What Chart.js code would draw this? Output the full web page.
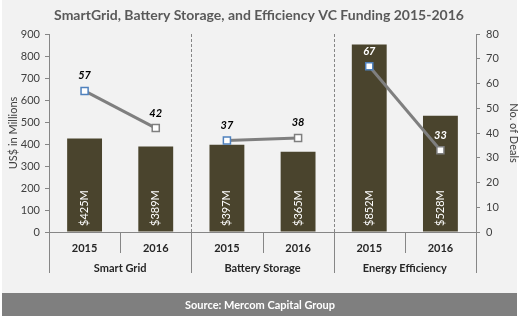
<!DOCTYPE html>
<html>
<head>
<meta charset="utf-8">
<script src="https://cdn.jsdelivr.net/npm/chart.js@4"></script>
<style>
  html, body { margin: 0; padding: 0; background: #ffffff; }
  #wrap { width: 520px; height: 320px; position: relative; }
</style>
</head>
<body>
<div id="wrap"><canvas id="vcChart" width="520" height="320"></canvas></div>
<script>
    // --- DATA ---
    const years = ['2015', '2016', '2015', '2016', '2015', '2016'];
    const groups = ['Smart Grid', 'Battery Storage', 'Energy Efficiency'];
    const funding = [425, 389, 397, 365, 852, 528];        // US$ millions
    const fundingLabels = ['$425M', '$389M', '$397M', '$365M', '$852M', '$528M'];
    const dealsSmartGrid = [57, 42, null, null, null, null];
    const dealsBattery = [null, null, 37, 38, null, null];
    const dealsEfficiency = [null, null, null, null, 67, 33];
    const leftTicks = [0, 100, 200, 300, 400, 500, 600, 700, 800, 900];
    const rightTicks = [0, 10, 20, 30, 40, 50, 60, 70, 80];

    const FONT = 'Lato, "Open Sans", sans-serif';
    const AXIS_GREY = '#868686';
    const BAR_COLOR = '#4a442d';

    // --- PANEL BACKGROUND + TITLE + FOOTER ---
    const framePlugin = {
        id: 'frame',
        beforeDraw(chart) {
            const c = chart.ctx;
            c.save();
            c.fillStyle = '#f2f2f2';
            c.fillRect(2, 0, 515, 316);
            c.fillStyle = '#7f7f7f';
            c.fillRect(2, 293, 515, 23);
            c.fillStyle = '#ffffff';
            c.font = 'bold 11px ' + FONT;
            c.textAlign = 'center';
            c.textBaseline = 'middle';
            c.fillText('Source: Mercom Capital Group', 260, 305);
            c.fillStyle = '#595959';
            c.font = 'bold 14px ' + FONT;
            c.fillText('SmartGrid, Battery Storage, and Efficiency VC Funding 2015-2016', 259, 15);
            c.restore();
        }
    };

    // --- SEPARATORS, GROUP LABELS, VALUE LABELS ---
    const overlayPlugin = {
        id: 'overlay',
        afterDatasetsDraw(chart) {
            const c = chart.ctx;
            const area = chart.chartArea;
            const xs = chart.scales.x;
            const half = (xs.getPixelForValue(1) - xs.getPixelForValue(0)) / 2;
            c.save();

            // bar value labels, rotated inside bars
            const barMeta = chart.getDatasetMeta(0);
            c.fillStyle = '#ffffff';
            c.font = '11px ' + FONT;
            c.textAlign = 'left';
            c.textBaseline = 'middle';
            barMeta.data.forEach((bar, i) => {
                c.save();
                c.translate(bar.x, area.bottom - 6);
                c.rotate(-Math.PI / 2);
                c.fillText(fundingLabels[i], 0, 0);
                c.restore();
            });

            // deal count labels above points
            c.font = 'bold italic 11px ' + FONT;
            c.textAlign = 'center';
            c.textBaseline = 'middle';
            [1, 2, 3].forEach(d => {
                const ds = chart.data.datasets[d];
                chart.getDatasetMeta(d).data.forEach((pt, i) => {
                    const v = ds.data[i];
                    if (v === null) return;
                    c.fillStyle = d === 3 ? '#ffffff' : '#000000';
                    c.fillText(v, pt.x, pt.y - 15);
                });
            });

            // group separators
            c.strokeStyle = AXIS_GREY;
            c.lineWidth = 1;
            for (let g = 1; g < groups.length; g++) {
                const x = Math.round(xs.getPixelForValue(g * 2) - half) + 0.5;
                c.setLineDash([3, 2]);
                c.beginPath();
                c.moveTo(x, area.top);
                c.lineTo(x, area.bottom);
                c.stroke();
            }
            c.setLineDash([]);
            for (let g = 0; g <= groups.length; g++) {
                const x = Math.round(xs.getPixelForValue(g * 2) - half) + 0.5;
                c.beginPath();
                c.moveTo(x, area.bottom);
                c.lineTo(x, area.bottom + 41);
                c.stroke();
            }
            for (let g = 0; g < groups.length; g++) {
                const x = Math.round(xs.getPixelForValue(g * 2 + 1) - half) + 0.5;
                c.beginPath();
                c.moveTo(x, area.bottom);
                c.lineTo(x, area.bottom + 21);
                c.stroke();
            }

            // group labels
            c.fillStyle = '#262626';
            c.font = 'bold 11px ' + FONT;
            groups.forEach((g, i) => {
                const x = xs.getPixelForValue(i * 2) + half;
                c.fillText(g, x, area.bottom + 36);
            });
            c.restore();
        }
    };

    const lineStyle = (data) => ({
        type: 'line',
        data: data,
        yAxisID: 'y1',
        borderColor: '#7f7f7f',
        borderWidth: 3,
        pointStyle: 'rect',
        pointRadius: 5,
        pointHoverRadius: 5,
        pointBackgroundColor: '#ffffff',
        pointBorderColor: data.map((v, i) => (i % 2 === 0 ? '#4f81bd' : '#7f7f7f')),
        pointBorderWidth: 1.5,
        spanGaps: false,
        order: 0
    });

    const ctx = document.getElementById('vcChart').getContext('2d');
    const vcChart = new Chart(ctx, {
        data: {
            labels: years,
            datasets: [
                {
                    type: 'bar',
                    data: funding,
                    backgroundColor: BAR_COLOR,
                    yAxisID: 'y',
                    barPercentage: 0.49,
                    categoryPercentage: 1,
                    order: 1
                },
                lineStyle(dealsSmartGrid),
                lineStyle(dealsBattery),
                lineStyle(dealsEfficiency)
            ]
        },
        options: {
            responsive: false,
            animation: false,
            layout: { padding: { top: 34, left: 0, right: 0, bottom: 0 } },
            plugins: { legend: { display: false }, tooltip: { enabled: false } },
            scales: {
                x: {
                    grid: { display: false },
                    border: { display: true, color: AXIS_GREY },
                    ticks: { color: '#262626', font: { family: FONT, size: 11, weight: 'bold' }, padding: 2, maxRotation: 0 },
                    afterFit: s => { s.height = 88; }
                },
                y: {
                    position: 'left',
                    min: 0, max: 900,
                    afterBuildTicks: s => { s.ticks = leftTicks.map(v => ({ value: v })); },
                    grid: { drawOnChartArea: false, tickLength: 4, color: AXIS_GREY },
                    border: { color: AXIS_GREY },
                    ticks: { color: '#404040', font: { family: FONT, size: 11 }, padding: 5 },
                    title: { display: true, text: 'US$ in Millions', color: '#404040', font: { family: FONT, size: 11 }, padding: { top: 7, bottom: 0 } },
                    afterFit: s => { s.width = 49; }
                },
                y1: {
                    position: 'right',
                    min: 0, max: 80,
                    afterBuildTicks: s => { s.ticks = rightTicks.map(v => ({ value: v })); },
                    grid: { drawOnChartArea: false, tickLength: 4, color: AXIS_GREY },
                    border: { color: AXIS_GREY },
                    ticks: { color: '#404040', font: { family: FONT, size: 11 }, padding: 6 },
                    title: { display: true, text: 'No. of Deals', color: '#404040', font: { family: FONT, size: 11 }, padding: { top: 0, bottom: 10 } },
                    afterFit: s => { s.width = 44; }
                }
            }
        },
        plugins: [framePlugin, overlayPlugin]
    });
</script>
</body>
</html>
